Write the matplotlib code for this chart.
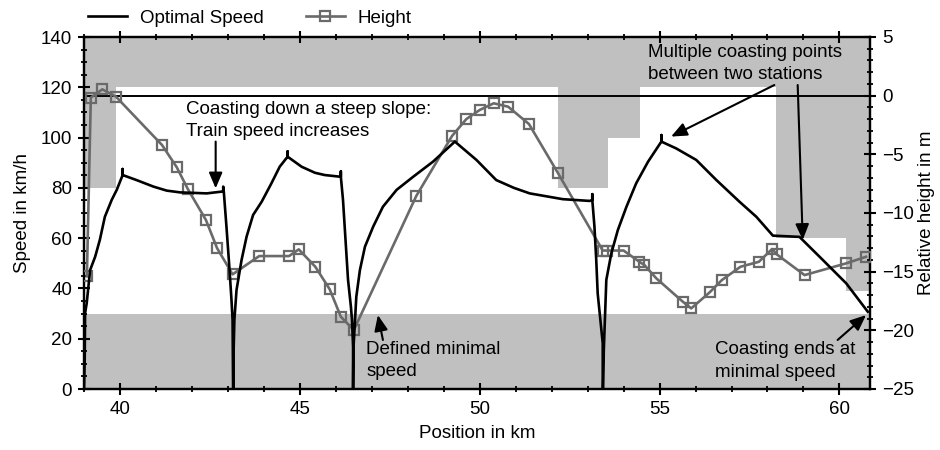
import matplotlib
matplotlib.use("Agg")
import matplotlib.pyplot as plt
from matplotlib.ticker import MultipleLocator

plt.rcParams['font.family'] = ['Liberation Sans', 'DejaVu Sans']
FS = 13.5
plt.rcParams['font.size'] = FS

# ---------------- data ----------------
speed_km = [39.00, 39.02, 39.03, 39.075, 39.17, 39.31, 39.44, 39.58, 39.77, 39.91, 40.075, 40.075, 40.075,
            40.46, 40.93, 41.30, 41.67, 42.41, 42.825, 42.87, 42.87, 42.89, 42.96, 43.04, 43.10, 43.13, 43.145,
            43.15, 43.16, 43.18, 43.24, 43.38, 43.52, 43.70, 43.94, 44.21, 44.44, 44.66, 44.66, 44.66,
            45.05, 45.42, 45.69, 46.14, 46.14, 46.14, 46.20, 46.27, 46.34, 46.42, 46.45, 46.48, 46.48,
            46.49, 46.57, 46.67, 46.81, 47.04, 47.31, 47.69, 48.15, 48.70, 49.31,
            49.91, 50.46, 50.95, 51.39, 52.31, 53.06, 53.13, 53.13, 53.13, 53.19, 53.24, 53.28, 53.42, 53.42,
            53.43, 53.45, 53.52, 53.66, 53.84, 54.08, 54.35, 54.68, 55.05, 55.05, 55.05,
            55.46, 56.02, 56.58, 57.22, 57.69, 58.15, 58.89, 59.54, 60.19, 60.79]
speed_val = [0, 12, 30.1, 34.1, 47.3, 52.6, 59.3, 68.5, 75.2, 79.2, 85.1, 87.5, 85.1,
             83.1, 80.5, 78.9, 78.2, 77.8, 78.5, 78.5, 80.5, 77.8, 64.6, 48.6, 35.4, 27.4, 0,
             0, 15.5, 27.4, 39.4, 51.3, 60.6, 69.2, 74.5, 81.8, 88.4, 92.4, 94.5, 92.4,
             88.4, 86.0, 85.1, 84.4, 86.5, 84.4, 75.2, 59.3, 43.4, 32.7, 27.4, 16.8, 0,
             16.0, 36.7, 47.3, 56.6, 64.6, 72.5, 79.2, 84.4, 90.4, 98.4,
             91.1, 83.1, 80.0, 77.8, 75.5, 74.8, 75.2, 77.5, 75.2, 64.6, 51.3, 38.0, 18.2, 0,
             0, 15.5, 43.4, 54.0, 63.2, 72.5, 81.8, 90.4, 98.4, 101.0, 98.4,
             95.7, 91.1, 83.1, 74.5, 68.5, 61.0, 60.5, 51.3, 42.0, 30.7]

height_km = [39.08, 39.19, 39.51, 39.89, 41.17, 41.58, 41.89, 42.39, 42.70, 43.13,
             43.87, 44.70, 44.97, 45.43, 45.83, 46.14, 46.50,
             48.24, 49.23, 49.63, 50.00, 50.39, 50.79, 51.37, 52.18,
             53.42, 53.55, 54.00, 54.44, 54.58, 54.91, 55.65, 55.88,
             56.39, 56.73, 57.25, 57.76, 58.13, 58.26, 59.03, 60.19, 60.74]
height_val = [-15.4, -0.17, 0.54, -0.09, -4.21, -6.11, -7.98, -10.6, -13.0, -15.23,
              -13.67, -13.67, -13.1, -14.58, -16.5, -18.84, -19.98,
              -8.53, -3.44, -1.99, -1.22, -0.65, -0.94, -2.42, -6.62,
              -13.2, -13.2, -13.2, -14.16, -14.44, -15.57, -17.57, -18.13,
              -16.77, -15.72, -14.58, -14.16, -13.07, -13.53, -15.29, -14.29, -13.73]

# speed limit profile (step edges in km, limit in km/h)
limit_km = [39.0, 39.89, 39.89, 52.17, 52.17, 53.56, 53.56, 54.47, 54.47, 58.25, 58.25, 60.19, 60.19, 60.85]
limit_val = [80, 80, 120, 120, 80, 80, 100, 100, 120, 120, 60, 60, 39, 39]
min_speed = 30

x_range = (39.0, 60.85)

# ---------------- figure ----------------
fig = plt.figure(figsize=(9.4, 4.5), dpi=100)
ax = fig.add_axes([84/940, 1-389/450, (870-84)/940, (389-37)/450])
ax2 = ax.twinx()

gray = '#c0c0c0'
ax.fill_between(limit_km, limit_val, 140, color=gray, lw=0, zorder=1)
ax.fill_between(list(x_range), 0, min_speed, color=gray, lw=0, zorder=1)

ax.set_xlim(*x_range)
ax.set_ylim(0, 140)

ax2.axhline(0, color='black', lw=1.4, zorder=2)
h_line, = ax2.plot(height_km, height_val, color='#6a6a6a', lw=1.9, marker='s',
                   markersize=7, markerfacecolor='none', markeredgecolor='#6a6a6a',
                   markeredgewidth=1.6, zorder=3, label='Height')
s_line, = ax2.plot(speed_km, speed_val, color='black', lw=1.9, zorder=4,
                   transform=ax.transData, label='Optimal Speed')
ax2.set_ylim(-25, 5)
ax2.set_xlim(*x_range)

# ---------------- axes styling ----------------
for a in (ax, ax2):
    for sp in a.spines.values():
        sp.set_linewidth(1.6)

ax.xaxis.set_major_locator(MultipleLocator(5))
ax.xaxis.set_minor_locator(MultipleLocator(1))
ax.yaxis.set_major_locator(MultipleLocator(20))
ax.yaxis.set_minor_locator(MultipleLocator(5))
ax2.yaxis.set_major_locator(MultipleLocator(5))
ax2.yaxis.set_minor_locator(MultipleLocator(1))

ax.tick_params(axis='both', which='major', direction='inout', length=9, width=1.5, labelsize=FS, pad=4)
ax.tick_params(axis='both', which='minor', direction='inout', length=5, width=1.3)
ax.tick_params(axis='x', which='both', top=True)
ax2.tick_params(axis='y', which='major', direction='inout', length=9, width=1.5, labelsize=FS, pad=4)
ax2.tick_params(axis='y', which='minor', direction='inout', length=5, width=1.3)

ax.set_xlabel('Position in km', fontsize=FS, labelpad=5)
ax.set_ylabel('Speed in km/h', fontsize=FS, labelpad=7)
ax2.set_ylabel('Relative height in m', fontsize=FS, labelpad=3)

# ---------------- annotations ----------------
tr = ax.transData
LS = 1.4
akw = dict(arrowstyle='-|>,head_length=0.7,head_width=0.3', color='black', lw=1.5,
           shrinkA=0, shrinkB=0)
ax2.text(41.83, 106.7, 'Coasting down a steep slope:\nTrain speed increases', transform=tr,
         ha='left', va='center', fontsize=FS, linespacing=LS, zorder=6)
ax2.annotate('', xy=(42.66, 79.8), xytext=(42.66, 98.4), xycoords=tr, textcoords=tr,
             arrowprops=akw, zorder=6)

ax2.text(54.675, 129.4, 'Multiple coasting points\nbetween two stations', transform=tr,
         ha='left', va='center', fontsize=FS, linespacing=LS, zorder=6)
ax2.annotate('', xy=(55.32, 100.4), xytext=(58.19, 120.9), xycoords=tr, textcoords=tr,
             arrowprops=akw, zorder=6)
ax2.annotate('', xy=(58.98, 59.3), xytext=(58.84, 120.9), xycoords=tr, textcoords=tr,
             arrowprops=akw, zorder=6)

ax2.text(46.85, 11.2, 'Defined minimal\nspeed', transform=tr,
         ha='left', va='center', fontsize=FS, linespacing=LS, zorder=6)
ax2.annotate('', xy=(47.17, 29.4), xytext=(47.31, 19.5), xycoords=tr, textcoords=tr,
             arrowprops=akw, zorder=6)

ax2.text(56.55, 11.1, 'Coasting ends at\nminimal speed', transform=tr,
         ha='left', va='center', fontsize=FS, linespacing=LS, zorder=6)
ax2.annotate('', xy=(60.74, 29.4), xytext=(59.95, 19.5), xycoords=tr, textcoords=tr,
             arrowprops=akw, zorder=6)

# ---------------- legend ----------------
ax2.legend(handles=[s_line, h_line], loc='center left', ncol=2,
           bbox_to_anchor=(88/940, 1-18/450), bbox_transform=fig.transFigure,
           frameon=False, borderpad=0, borderaxespad=0, handlelength=2.1,
           handletextpad=0.65, columnspacing=2.25, fontsize=FS)

fig.savefig('out.png', dpi=100)
